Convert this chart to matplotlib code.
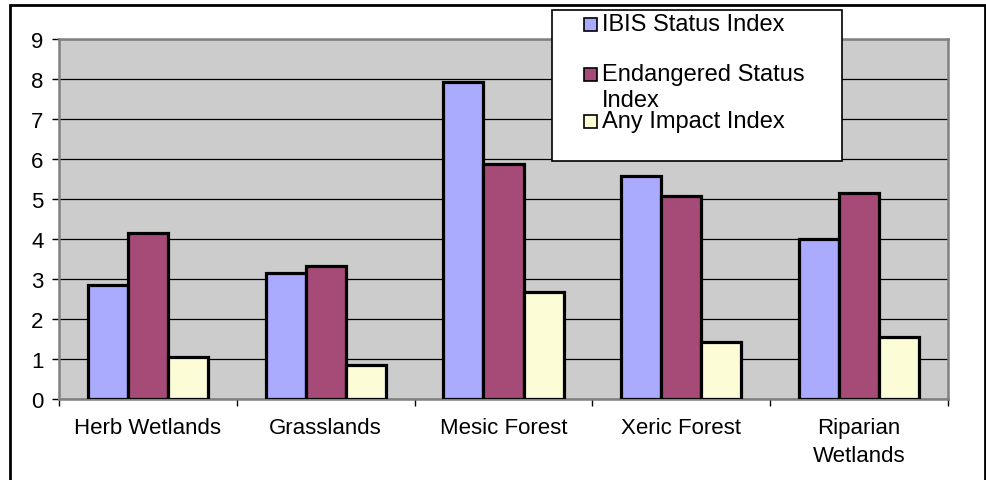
import matplotlib

matplotlib.use("Agg")
import matplotlib.pyplot as plt  # noqa: E402
import numpy as np  # noqa: E402
from matplotlib.patches import Rectangle  # noqa: E402

categories = ["Herb Wetlands", "Grasslands", "Mesic Forest", "Xeric Forest", "Riparian\nWetlands"]
ibis_status = [2.85, 3.15, 7.93, 5.57, 4.0]
endangered_status = [4.15, 3.33, 5.88, 5.07, 5.15]
any_impact = [1.05, 0.85, 2.67, 1.42, 1.55]

series_names = ["IBIS Status Index", "Endangered Status\nIndex", "Any Impact Index"]
series_colors = ["#AAAAFF", "#A64A78", "#FCFCD6"]

W, H = 987, 481


def fx(px):
    return px / W


def fy(py):
    return 1 - py / H


plt.rcParams["font.family"] = ["Liberation Sans", "DejaVu Sans"]

fig = plt.figure(figsize=(W / 100, H / 100), dpi=100)
ax = fig.add_axes([fx(59), fy(400), fx(948 - 59), 360 / H])

x = np.arange(len(categories))
width = 0.225
for i, (vals, color) in enumerate(zip([ibis_status, endangered_status, any_impact], series_colors)):
    ax.bar(x + (i - 1) * width, vals, width, color=color, edgecolor="black",
           linewidth=2.3, zorder=3)

ax.set_facecolor("#CCCCCC")
ax.set_xlim(-0.5, len(categories) - 0.5)
ax.set_ylim(0, 9)
ax.set_yticks(range(0, 10))
ax.yaxis.grid(True, color="black", linewidth=0.9)
ax.set_axisbelow(True)
for side in ["top", "right", "left", "bottom"]:
    ax.spines[side].set_color("#808080")
    ax.spines[side].set_linewidth(1.8)

ax.set_xticks(x)
ax.set_xticklabels(categories, fontsize=16, linespacing=1.45)
ax.set_xticks(np.arange(-0.5, len(categories)), minor=True)
ax.tick_params(axis="x", which="major", length=0, pad=13)
ax.tick_params(axis="x", which="minor", length=5, width=1, color="black")
ax.tick_params(axis="y", length=5, width=1, color="black", pad=6)
for lbl in ax.get_yticklabels():
    lbl.set_fontsize(16)

# outer chart frame
fig.patches.append(Rectangle((fx(10), -0.05), fx(985 - 10), fy(6) + 0.05,
                             transform=fig.transFigure, fill=False,
                             edgecolor="black", linewidth=2))

# legend box, drawn by hand to match the spreadsheet layout
fig.patches.append(Rectangle((fx(552), fy(162)), fx(842 - 552), (162 - 11) / H,
                             transform=fig.transFigure, facecolor="white",
                             edgecolor="black", linewidth=1.2, zorder=5))
legend_rows = [25, 75, 122]
for name, color, row in zip(series_names, series_colors, legend_rows):
    fig.patches.append(Rectangle((fx(584), fy(row + 7)), fx(13), 13 / H,
                                 transform=fig.transFigure, facecolor=color,
                                 edgecolor="black", linewidth=1.2, zorder=6))
    for k, line in enumerate(name.split("\n")):
        fig.text(fx(602), fy(row + 26 * k), line, fontsize=17, ha="left",
                 va="center", zorder=7)

fig.savefig("out.png", dpi=100)
